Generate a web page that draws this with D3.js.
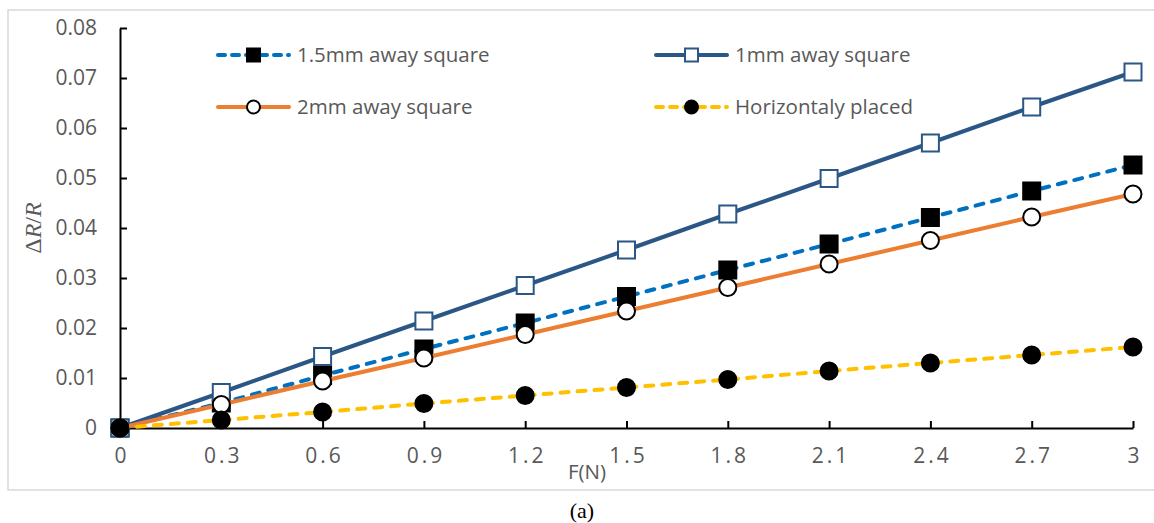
<!DOCTYPE html>
<html>
<head>
<meta charset="utf-8">
<script src="https://cdn.jsdelivr.net/npm/d3@7"></script>
<style>
  body { margin: 0; background: #fff; }
  text { font-family: "Open Sans", "Noto Sans", sans-serif; }
</style>
</head>
<body>
<script>
// force values (N)
const forces = [0, 0.3, 0.6, 0.9, 1.2, 1.5, 1.8, 2.1, 2.4, 2.7, 3];
const xTickLabels = ["0", "0.3", "0.6", "0.9", "1.2", "1.5", "1.8", "2.1", "2.4", "2.7", "3"];
const yTicks = [0, 0.01, 0.02, 0.03, 0.04, 0.05, 0.06, 0.07, 0.08];
const yTickLabels = ["0", "0.01", "0.02", "0.03", "0.04", "0.05", "0.06", "0.07", "0.08"];

const seriesNames = ["1.5mm away square", "1mm away square", "2mm away square", "Horizontaly placed"];
const mm15 = [0, 0.0050, 0.0105, 0.0158, 0.0210, 0.0263, 0.0316, 0.0368, 0.0421, 0.0474, 0.0526];
const mm1 = [0, 0.0071, 0.0143, 0.0214, 0.0285, 0.0356, 0.0428, 0.0499, 0.0570, 0.0642, 0.0712];
const mm2 = [0, 0.0047, 0.0094, 0.0140, 0.0187, 0.0234, 0.0281, 0.0328, 0.0375, 0.0422, 0.0468];
const horiz = [0, 0.0016, 0.0032, 0.0049, 0.0065, 0.0081, 0.0097, 0.0114, 0.0130, 0.0146, 0.0162];

const width = 1154;
const height = 523;

const svg = d3.select("body")
    .append("svg")
    .attr("width", width)
    .attr("height", height);

// chart area border
svg.append("rect")
    .attr("x", 8).attr("y", 10)
    .attr("width", 1152).attr("height", 480)
    .attr("fill", "none")
    .attr("stroke", "#d9d9d9")
    .attr("stroke-width", 1.5);

const x = d3.scaleLinear().domain([0, 3]).range([120, 1133]);
const y = d3.scaleLinear().domain([0, 0.08]).range([428, 28]);

const series = [
    {name: seriesNames[0], values: mm15, color: "#0070c0", dash: "8,9", marker: "square", fill: "#000", stroke: "#000"},
    {name: seriesNames[1], values: mm1, color: "#2b5786", dash: null, marker: "square", fill: "#fff", stroke: "#2b5786"},
    {name: seriesNames[2], values: mm2, color: "#ed7d31", dash: null, marker: "circle", fill: "#fff", stroke: "#000"},
    {name: seriesNames[3], values: horiz, color: "#ffc000", dash: "8,9", marker: "circle", fill: "#000", stroke: "#000"}
];

// axes
const yAxis = svg.append("g")
    .attr("transform", "translate(120,0)")
    .call(d3.axisLeft(y).tickValues(yTicks).tickFormat((d, i) => yTickLabels[i])
        .tickSizeInner(-7).tickSizeOuter(0).tickPadding(23));

const xAxis = svg.append("g")
    .attr("transform", "translate(0,428)")
    .call(d3.axisBottom(x).tickValues(forces).tickFormat((d, i) => xTickLabels[i])
        .tickSizeInner(-7).tickSizeOuter(0).tickPadding(20));

[xAxis, yAxis].forEach(g => {
    g.select(".domain").attr("stroke", "#000").attr("stroke-width", 2);
    g.selectAll(".tick line").attr("stroke", "#000").attr("stroke-width", 2);
    g.selectAll(".tick text")
        .attr("fill", "#595959")
        .style("font-size", "21px")
        .style("font-family", "'Open Sans', sans-serif");
});
xAxis.selectAll(".tick text").style("letter-spacing", "3px").attr("dx", "1.5px");

const line = d3.line()
    .x((d, i) => x(forces[i]))
    .y(d => y(d));

function drawMarker(g, s, cx, cy, size) {
    if (s.marker === "square") {
        g.append("rect")
            .attr("x", cx - size / 2).attr("y", cy - size / 2)
            .attr("width", size).attr("height", size)
            .attr("fill", s.fill)
            .attr("stroke", s.stroke)
            .attr("stroke-width", 2);
    } else {
        g.append("circle")
            .attr("cx", cx).attr("cy", cy)
            .attr("r", size / 2)
            .attr("fill", s.fill)
            .attr("stroke", s.stroke)
            .attr("stroke-width", 2);
    }
}

series.forEach(s => {
    const g = svg.append("g");
    g.append("path")
        .datum(s.values)
        .attr("d", line)
        .attr("fill", "none")
        .attr("stroke", s.color)
        .attr("stroke-width", 4)
        .attr("stroke-linecap", s.dash ? "round" : "butt")
        .attr("stroke-dasharray", s.dash);
    s.values.forEach((v, i) => drawMarker(g, s, x(forces[i]), y(v), 17));
});

// legend
const legendPos = [[218, 55], [656, 55], [218, 107], [656, 107]];
series.forEach((s, i) => {
    const [lx, ly] = legendPos[i];
    const g = svg.append("g");
    g.append("line")
        .attr("x1", lx).attr("x2", lx + 71)
        .attr("y1", ly).attr("y2", ly)
        .attr("stroke", s.color)
        .attr("stroke-width", 4)
        .attr("stroke-linecap", "round")
        .attr("stroke-dasharray", s.dash ? "7,7" : null);
    drawMarker(g, s, lx + 35.5, ly, 13);
    g.append("text")
        .attr("x", lx + 79).attr("y", ly)
        .attr("dy", "0.35em")
        .attr("fill", "#595959")
        .style("font-size", "20.5px")
        .text(s.name);
});

// axis titles
svg.append("text")
    .attr("x", 587).attr("y", 472)
    .attr("dy", "0.35em")
    .attr("text-anchor", "middle")
    .attr("fill", "#595959")
    .style("font-size", "20.5px")
    .text("F(N)");

const yt = svg.append("text")
    .attr("transform", "translate(41,228) rotate(-90)")
    .attr("text-anchor", "middle")
    .attr("fill", "#595959")
    .style("font-family", "'Liberation Serif', serif")
    .style("font-size", "24px");
yt.append("tspan").text("\u0394");
yt.append("tspan").style("font-style", "italic").text("R");
yt.append("tspan").text("/");
yt.append("tspan").style("font-style", "italic").text("R");

svg.append("text")
    .attr("x", 582).attr("y", 510)
    .attr("dy", "0.35em")
    .attr("text-anchor", "middle")
    .attr("fill", "#000")
    .style("font-family", "'Liberation Serif', serif")
    .style("font-size", "22px")
    .text("(a)");
</script>
</body>
</html>
